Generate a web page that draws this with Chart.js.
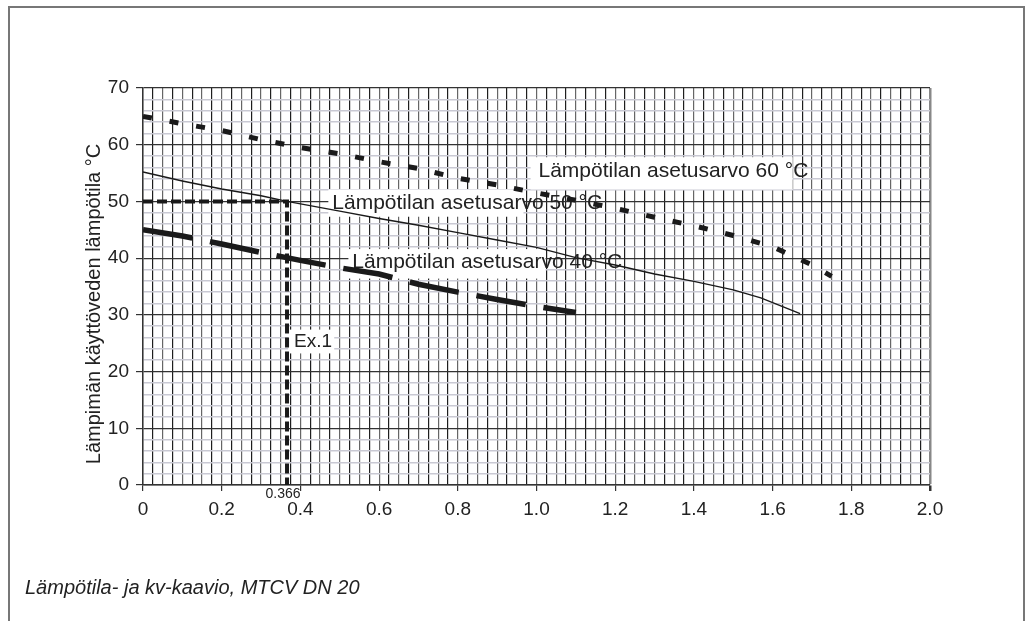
<!DOCTYPE html>
<html lang="fi">
<head>
    <meta charset="UTF-8">
    <title>Lämpötila- ja kv-kaavio, MTCV DN 20</title>
    <script src="https://cdn.jsdelivr.net/npm/chart.js"></script>
    <style>
        body { margin: 0; background: #fff; }
        #wrap { position: relative; width: 1029px; height: 621px; overflow: hidden; }
        #chart { position: absolute; left: 0; top: 0; }
        #frame {
            position: absolute; left: 8px; top: 6px; width: 1017px; height: 640px;
            border: 2px solid #777; box-sizing: border-box; pointer-events: none;
        }
        #caption {
            position: absolute; left: 25px; top: 576px;
            font: italic 20px "Liberation Sans", Arial, sans-serif; color: #222;
        }
    </style>
</head>
<body>
    <div id="wrap">
        <canvas id="chart" width="1029" height="621"></canvas>
        <div id="frame"></div>
        <div id="caption">Lämpötila- ja kv-kaavio, MTCV DN 20</div>
    </div>

    <script>
        // kv (x) against hot water temperature (y)
        const flow60 = [0, 0.1, 0.2, 0.3, 0.4, 0.5, 0.6, 0.7, 0.8, 0.9, 1.0, 1.1, 1.2, 1.3, 1.4, 1.5, 1.6, 1.7, 1.75];
        const temp60 = [65, 63.7, 62.5, 60.9, 59.5, 58.4, 57.0, 55.8, 54.1, 52.9, 51.5, 50.2, 48.8, 47.2, 45.7, 44.0, 42.0, 38.8, 36.8];

        const flow50 = [0, 0.1, 0.2, 0.3, 0.366, 0.5, 0.6, 0.7, 0.8, 0.9, 1.0, 1.1, 1.2, 1.3, 1.4, 1.5, 1.57, 1.67];
        const temp50 = [55.2, 53.6, 52.2, 51.0, 50.0, 48.3, 47.0, 45.8, 44.5, 43.2, 41.9, 40.1, 38.8, 37.2, 35.9, 34.4, 33.0, 30.2];

        const flow40 = [0, 0.1, 0.2, 0.3, 0.4, 0.5, 0.6, 0.7, 0.8, 0.9, 1.0, 1.1];
        const temp40 = [45.0, 43.9, 42.5, 41.0, 39.6, 38.3, 37.2, 35.4, 34.0, 32.7, 31.5, 30.4];

        // example 1 guide: 50 °C -> kv 0.366
        const exFlow = [0, 0.366, 0.366];
        const exTemp = [50, 50, 0];

        const curveLabels = ['Lämpötilan asetusarvo 60 °C', 'Lämpötilan asetusarvo 50 °C', 'Lämpötilan asetusarvo 40 °C'];
        const xTickLabels = ['0', '0.2', '0.4', '0.6', '0.8', '1.0', '1.2', '1.4', '1.6', '1.8', '2.0'];
        const yTickLabels = ['0', '10', '20', '30', '40', '50', '60', '70'];
        const yTitle = 'Lämpimän käyttöveden lämpötila °C';

        const FONT = '"Liberation Sans", Arial, sans-serif';

        function toPoints(xs, ys) {
            return xs.map((v, i) => ({ x: v, y: ys[i] }));
        }

        function isStep(v, step) {
            const r = v / step;
            return Math.abs(r - Math.round(r)) < 1e-6;
        }

        // label boxes placed in data units
        const labelBoxes = [
            { text: curveLabels[0], tx: 1.005, ty: 55.3, box: [0.985, 1.651, 57.8, 52.1] },
            { text: curveLabels[1], tx: 0.481, ty: 49.6, box: [0.471, 0.967, 52.1, 47.3] },
            { text: curveLabels[2], tx: 0.532, ty: 39.2, box: [0.522, 1.023, 41.6, 36.4] }
        ];

        const notes = {
            id: 'notes',
            beforeDatasetsDraw(chart) {
                const { ctx, scales: { x, y } } = chart;
                ctx.save();
                ctx.textBaseline = 'middle';
                ctx.textAlign = 'left';
                ctx.font = '21px ' + FONT;
                labelBoxes.forEach(l => {
                    const x0 = x.getPixelForValue(l.box[0]);
                    const x1 = x.getPixelForValue(l.box[1]);
                    const y0 = y.getPixelForValue(l.box[2]);
                    const y1 = y.getPixelForValue(l.box[3]);
                    ctx.fillStyle = '#fff';
                    ctx.fillRect(x0, y0, x1 - x0, y1 - y0);
                    ctx.fillStyle = '#222';
                    ctx.fillText(l.text, x.getPixelForValue(l.tx), y.getPixelForValue(l.ty));
                });

                // Ex.1
                const ex0 = x.getPixelForValue(0.369);
                const ex1 = x.getPixelForValue(0.486);
                const ey0 = y.getPixelForValue(27.4);
                const ey1 = y.getPixelForValue(23.2);
                ctx.fillStyle = '#fff';
                ctx.fillRect(ex0, ey0, ex1 - ex0, ey1 - ey0);
                ctx.fillStyle = '#222';
                ctx.font = '19px ' + FONT;
                ctx.fillText('Ex.1', x.getPixelForValue(0.384), y.getPixelForValue(25.3));
                ctx.restore();
            },
            afterDraw(chart) {
                const { ctx, scales: { x, y } } = chart;
                ctx.save();
                ctx.fillStyle = '#222';
                ctx.textAlign = 'center';
                ctx.textBaseline = 'middle';
                ctx.font = '14px ' + FONT;
                ctx.fillText('0.366', x.getPixelForValue(0.356), y.bottom + 9);

                ctx.font = '20px ' + FONT;
                ctx.translate(94, 304);
                ctx.rotate(-Math.PI / 2);
                ctx.fillText(yTitle, 0, 0);
                ctx.restore();
            }
        };

        document.addEventListener('DOMContentLoaded', () => {
            const canvas = document.getElementById('chart');

            new Chart(canvas, {
                type: 'scatter',
                data: {
                    datasets: [
                        {
                            label: curveLabels[0],
                            data: toPoints(flow60, temp60),
                            showLine: true,
                            borderColor: '#1a1a1a',
                            borderWidth: 5,
                            borderDash: [9, 18],
                            pointRadius: 0,
                            tension: 0
                        },
                        {
                            label: curveLabels[1],
                            data: toPoints(flow50, temp50),
                            showLine: true,
                            borderColor: '#1a1a1a',
                            borderWidth: 1.4,
                            pointRadius: 0,
                            tension: 0
                        },
                        {
                            label: curveLabels[2],
                            data: toPoints(flow40, temp40),
                            showLine: true,
                            borderColor: '#1a1a1a',
                            borderWidth: 5.5,
                            borderDash: [50, 18],
                            pointRadius: 0,
                            tension: 0
                        },
                        {
                            label: 'Ex.1',
                            data: toPoints(exFlow, exTemp),
                            showLine: true,
                            borderColor: '#1a1a1a',
                            borderWidth: 4,
                            borderDash: [10, 4],
                            pointRadius: 0,
                            tension: 0
                        }
                    ]
                },
                options: {
                    responsive: false,
                    animation: false,
                    devicePixelRatio: 1,
                    layout: {
                        padding: { left: 0, top: 88, right: 99, bottom: 0 }
                    },
                    plugins: {
                        legend: { display: false },
                        tooltip: { enabled: false }
                    },
                    scales: {
                        x: {
                            type: 'linear',
                            min: 0,
                            max: 2,
                            afterFit: s => { s.height = 136; },
                            border: { color: '#333', width: 1.5 },
                            grid: {
                                color: c => {
                                    if (isStep(c.tick.value, 2)) return '#888';
                                    return isStep(c.tick.value, 0.05) ? '#666' : '#1e1e1e';
                                },
                                lineWidth: c => (c.tick.value > 1.99 ? 2.5 : 1.2),
                                tickLength: 6,
                                tickColor: c => (isStep(c.tick.value, 0.2) ? '#333' : 'rgba(0,0,0,0)')
                            },
                            ticks: {
                                stepSize: 0.025,
                                autoSkip: false,
                                maxRotation: 0,
                                minRotation: 0,
                                padding: 7,
                                color: '#222',
                                font: { family: FONT, size: 19 },
                                callback: v => (isStep(v, 0.2) ? xTickLabels[Math.round(v / 0.2)] : '')
                            }
                        },
                        y: {
                            min: 0,
                            max: 70,
                            afterFit: s => { s.width = 143; },
                            border: { color: '#333', width: 1.5 },
                            grid: {
                                color: c => (isStep(c.tick.value, 10) ? '#333' : '#c9c9d3'),
                                lineWidth: c => (isStep(c.tick.value, 10) ? 1.2 : 1.5),
                                tickLength: 7,
                                tickColor: c => (isStep(c.tick.value, 10) ? '#333' : 'rgba(0,0,0,0)')
                            },
                            ticks: {
                                stepSize: 2,
                                autoSkip: false,
                                padding: 7,
                                color: '#222',
                                font: { family: FONT, size: 19 },
                                callback: v => (isStep(v, 10) ? yTickLabels[Math.round(v / 10)] : '')
                            }
                        }
                    }
                },
                plugins: [notes]
            });
        });
    </script>
</body>
</html>
